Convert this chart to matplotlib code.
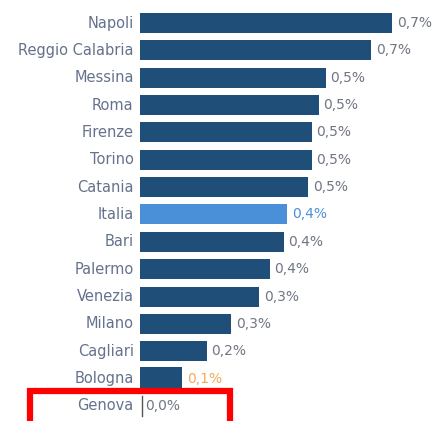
import matplotlib
matplotlib.use('Agg')
from matplotlib import pyplot as plt
from matplotlib.patches import Rectangle

cities = ['Napoli', 'Reggio Calabria', 'Messina', 'Roma', 'Firenze', 'Torino',
          'Catania', 'Italia', 'Bari', 'Palermo', 'Venezia', 'Milano',
          'Cagliari', 'Bologna', 'Genova']
values = [0.72, 0.66, 0.53, 0.51, 0.49, 0.49, 0.48, 0.42, 0.41, 0.37,
          0.34, 0.26, 0.19, 0.12, 0.0]
labels = ['0,7%', '0,7%', '0,5%', '0,5%', '0,5%', '0,5%', '0,5%', '0,4%',
          '0,4%', '0,4%', '0,3%', '0,3%', '0,2%', '0,1%', '0,0%']

dark = '#1f4e79'
light = '#4a90d9'
orange = '#f4a85a'
txt = '#707684'
name_col = '#65728c'

plt.rcParams['font.family'] = ['DejaVu Sans']

fig = plt.figure(figsize=(4.37, 4.21), dpi=100)
ax = fig.add_axes([140 / 437, 0, 297 / 437, 1])

ys = list(range(len(cities)))
for y, c, v, lab in zip(ys, cities, values, labels):
    col = dark
    lcol = txt
    h = 0.73
    if c == 'Italia':
        col = light
        lcol = light
    if c == 'Bologna':
        lcol = orange
        h = 0.82
    if v > 0:
        ax.barh(y, v, height=h, color=col, edgecolor='none')
    else:
        ax.plot([0.005, 0.005], [y - 0.36, y + 0.36], color='#555555', lw=1)
    ax.text(v + 0.014, y, lab, va='center', ha='left', fontsize=10, color=lcol)
    ax.text(-0.018, y, c, va='center', ha='right', fontsize=10.5, color=name_col)

ax.set_xlim(0, 297 / 350)
ax.set_ylim(14.55, -0.841)
ax.axis('off')

fig.patches.append(Rectangle((30 / 437, -0.05), 200 / 437, 0.122,
                             transform=fig.transFigure, fill=False,
                             edgecolor='#ff0000', lw=4.5, clip_on=False))

fig.savefig('out.png', dpi=100)
